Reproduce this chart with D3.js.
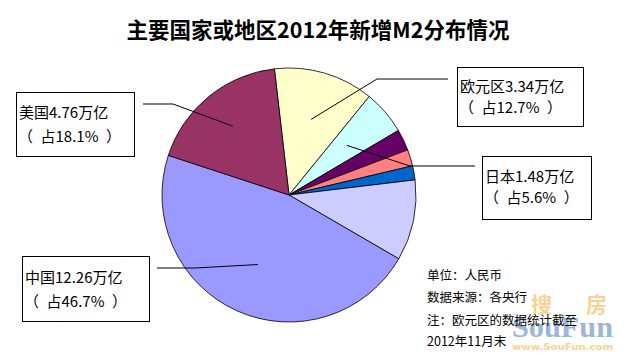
<!DOCTYPE html>
<html>
<head>
<meta charset="utf-8">
<script src="https://cdn.jsdelivr.net/npm/d3@7/dist/d3.min.js"></script>
<style>
  html, body { margin: 0; padding: 0; background: #fff; }
  svg { display: block; }
</style>
</head>
<body>
<svg id="chart" width="628" height="361"></svg>
<script>
// ---- Data ----
const title = "主要国家或地区2012年新增M2分布情况";
const regions = ["欧元区", "日本", "其他1", "其他2", "其他3", "其他4", "中国", "美国"];
const values = [3.34, 1.48, 0.71, 0.55, 0.47, 2.70, 12.26, 4.76];   // 万亿 (RMB trillion)
const colors = ["#FFFFCC", "#CCFFFF", "#660066", "#FF8080", "#0066CC", "#CCCCFF", "#9999FF", "#993366"];
const labelLine1 = ["欧元区3.34万亿", "日本1.48万亿", null, null, null, null, "中国12.26万亿", "美国4.76万亿"];
const labelLine2 = ["（\u2002占12.7%\u2002）", "（\u2002占5.6%\u2002）", null, null, null, null, "（\u2002占46.7%\u2002）", "（\u2002占18.1%\u2002）"];
const notes = ["单位：人民币", "数据来源：各央行", "注：欧元区的数据统计截至", "2012年11月末"];

// ---- Layout ----
const FONT = '"Noto Sans CJK SC", "Noto Sans", sans-serif';
const svg = d3.select("#chart");
const cx = 289, cy = 195, r = 127;
const startDeg = -6.6;

svg.append("text")
  .attr("x", 318).attr("y", 38)
  .attr("text-anchor", "middle")
  .style("font-family", FONT)
  .attr("font-size", 21.5).attr("font-weight", "bold")
  .attr("fill", "#000")
  .text(title);

const pie = d3.pie().sort(null).value(d => d)
  .startAngle(startDeg * Math.PI / 180)
  .endAngle(startDeg * Math.PI / 180 + 2 * Math.PI);
const arcs = pie(values);
const arc = d3.arc().innerRadius(0).outerRadius(r);

const g = svg.append("g").attr("transform", `translate(${cx},${cy})`);
g.selectAll("path").data(arcs).enter().append("path")
  .attr("d", arc)
  .attr("fill", (d, i) => colors[i])
  .attr("stroke", "#000")
  .attr("stroke-width", 0.8);

// label boxes: anchor radius fraction, elbow, box geometry
const labelSpec = {
  0: { inner: 0.62, elbow: [377, 79], end: [448, 79], box: [457, 67, 126, 59], t: [460, 87, 108] },
  1: { inner: 0.60, elbow: [410, 166], end: [475, 166], box: [482, 156, 109, 63], t: [485, 177, 198] },
  6: { inner: 0.60, elbow: [195, 268], end: [157, 268], box: [22, 256, 127, 65], t: [25, 278, 302] },
  7: { inner: 0.70, elbow: [173, 104], end: [143, 104], box: [16, 92, 118, 64], t: [19, 113, 137] }
};

Object.keys(labelSpec).forEach(k => {
  const i = +k, s = labelSpec[k];
  const a = arcs[i];
  const mid = (a.startAngle + a.endAngle) / 2;
  const px = cx + Math.sin(mid) * r * s.inner;
  const py = cy - Math.cos(mid) * r * s.inner;
  svg.append("polyline")
    .attr("points", `${px},${py} ${s.elbow[0]},${s.elbow[1]} ${s.end[0]},${s.end[1]}`)
    .attr("fill", "none").attr("stroke", "#000").attr("stroke-width", 1);
  svg.append("rect")
    .attr("x", s.box[0] + 0.5).attr("y", s.box[1] + 0.5)
    .attr("width", s.box[2]).attr("height", s.box[3])
    .attr("fill", "#fff").attr("stroke", "#000").attr("stroke-width", 1);
  svg.append("text").attr("x", s.t[0]).attr("y", s.t[1] + 5)
    .style("font-family", FONT)
    .attr("font-size", 15).attr("fill", "#000").text(labelLine1[i]);
  svg.append("text").attr("x", s.t[0] - 1).attr("y", s.t[2] + 5)
    .style("font-family", FONT)
    .attr("font-size", 15).attr("fill", "#000").text(labelLine2[i]);
});

// watermark
const wm = svg.append("g").attr("opacity", 0.5);
wm.append("text").attr("x", 531).attr("y", 312).attr("font-size", 21).attr("fill", "#F5A623").attr("font-weight", "bold")
  .style("font-family", FONT).text("搜");
wm.append("text").attr("x", 586).attr("y", 312).attr("font-size", 21).attr("fill", "#F5A623").attr("font-weight", "bold")
  .style("font-family", FONT).text("房");
wm.append("text").attr("x", 512).attr("y", 337).attr("font-size", 30).attr("fill", "#3A6FB5").attr("font-weight", "bold")
  .attr("textLength", 101).attr("lengthAdjust", "spacingAndGlyphs")
  .style("font-family", '"Liberation Serif", serif').text("SouFun");
wm.append("text").attr("x", 512).attr("y", 350).attr("font-size", 9).attr("fill", "#F5A623").attr("font-weight", "bold")
  .attr("textLength", 101).attr("lengthAdjust", "spacingAndGlyphs")
  .style("font-family", '"DejaVu Sans", sans-serif').text("www.SouFun.com");

// notes
const noteY = [275, 297, 320, 341];
notes.forEach((n, i) => {
  svg.append("text").attr("x", 427).attr("y", noteY[i] + 5)
    .style("font-family", FONT)
    .attr("font-size", 12.5).attr("fill", "#000").text(n);
});
</script>
</body>
</html>
